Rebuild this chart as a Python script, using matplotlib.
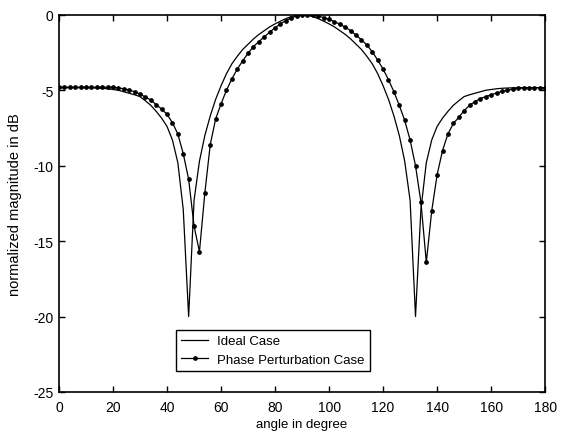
import numpy as np
import matplotlib
matplotlib.use("Agg")
import matplotlib.pyplot as plt

plt.rcParams['font.family'] = ['Liberation Sans', 'DejaVu Sans']
plt.rcParams['axes.unicode_minus'] = False

# angle samples (degrees), every 2 degrees
angle = np.arange(0, 181, 2)

# ideal case (dB)
ideal_db = [
    -4.83, -4.83, -4.83, -4.83, -4.83, -4.83, -4.84, -4.85, -4.87, -4.90,   # 0-18
    -4.95, -5.00, -5.10, -5.20, -5.30, -5.42, -5.70, -6.00, -6.40, -6.85,   # 20-38
    -7.40, -8.30, -9.80, -12.9, -20.0, -12.3, -9.70, -8.00, -6.70, -5.60,   # 40-58
    -4.70, -3.90, -3.25, -2.75, -2.30, -1.95, -1.60, -1.30, -1.05, -0.80,   # 60-78
    -0.60, -0.42, -0.25, -0.12, -0.03, 0.00, -0.03, -0.12, -0.25, -0.42,    # 80-98
    -0.60, -0.80, -1.05, -1.30, -1.60, -1.95, -2.30, -2.75, -3.25, -3.90,   # 100-118
    -4.70, -5.60, -6.70, -8.00, -9.70, -12.3, -20.0, -12.9, -9.80, -8.30,   # 120-138
    -7.40, -6.85, -6.40, -6.00, -5.70, -5.42, -5.30, -5.20, -5.10, -5.00,   # 140-158
    -4.95, -4.90, -4.87, -4.85, -4.84, -4.83, -4.83, -4.83, -4.83, -4.83,   # 160-178
    -4.83,                                                                  # 180
]

# phase perturbation case (dB)
perturbed_db = [
    -4.80, -4.80, -4.80, -4.80, -4.80, -4.80, -4.80, -4.80, -4.80, -4.80,   # 0-18
    -4.80, -4.85, -4.90, -4.98, -5.10, -5.25, -5.45, -5.65, -5.95, -6.25,   # 20-38
    -6.60, -7.15, -7.90, -9.20, -10.9, -14.0, -15.7, -11.8, -8.60, -6.90,   # 40-58
    -5.90, -5.00, -4.25, -3.60, -3.05, -2.55, -2.10, -1.78, -1.45, -1.15,   # 60-78
    -0.85, -0.60, -0.38, -0.20, -0.08, -0.02, 0.00, -0.02, -0.08, -0.18,    # 80-98
    -0.30, -0.45, -0.62, -0.82, -1.05, -1.35, -1.65, -2.00, -2.45, -3.00,   # 100-118
    -3.60, -4.30, -5.10, -6.00, -7.00, -8.30, -10.0, -12.4, -16.4, -13.0,   # 120-138
    -10.6, -9.00, -7.90, -7.20, -6.80, -6.35, -6.00, -5.75, -5.55, -5.42,   # 140-158
    -5.30, -5.18, -5.08, -5.00, -4.93, -4.88, -4.85, -4.83, -4.83, -4.83,   # 160-178
    -4.83,                                                                  # 180
]

fig = plt.figure(figsize=(5.62, 4.35), dpi=100)
ax = fig.add_axes([0.105, 0.0966, 0.865, 0.867])

ax.plot(angle, ideal_db, color="black", linewidth=0.9, label="Ideal Case")
ax.plot(angle, perturbed_db, color="black", linewidth=0.9, marker="o",
        markersize=2.4, label="Phase Perturbation Case")

ax.set_xlim(0, 180)
ax.set_ylim(-25, 0)
ax.set_xticks(np.arange(0, 181, 20))
ax.set_yticks([-25, -20, -15, -10, -5, 0])
ax.tick_params(direction="in", top=True, right=True, length=4, width=1,
               labelsize=10)
ax.tick_params(axis="x", pad=6)
ax.tick_params(axis="y", pad=4)
for s in ax.spines.values():
    s.set_linewidth(1.2)

ax.set_xlabel("angle in degree", fontsize=9.5, labelpad=3)
ax.set_ylabel("normalized magnitude in dB", fontsize=10.5, labelpad=8)

leg = ax.legend(loc="lower left", bbox_to_anchor=(0.241, 0.056), borderaxespad=0,
                fontsize=9.5, fancybox=False, framealpha=1, edgecolor="black",
                handlelength=2.0, handletextpad=0.7, borderpad=0.4, labelspacing=0.45)
leg.get_frame().set_linewidth(1.0)

fig.savefig("out.png", dpi=100)
